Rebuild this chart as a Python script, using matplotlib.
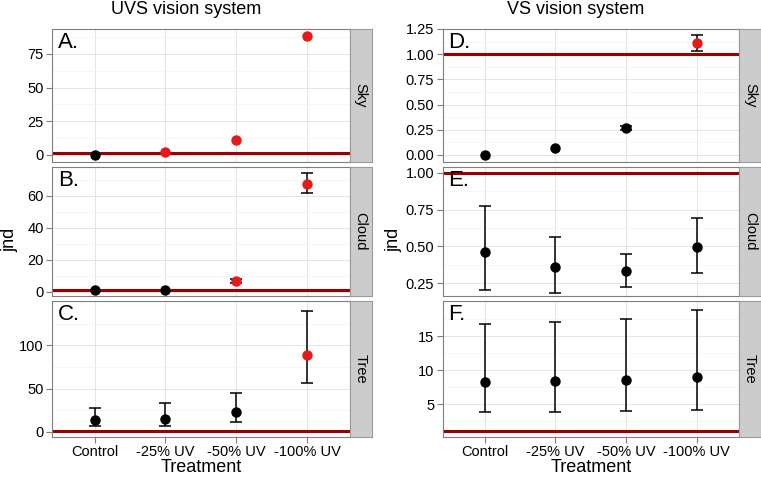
import matplotlib
matplotlib.use("Agg")
import matplotlib.pyplot as plt
from matplotlib.ticker import FixedLocator

plt.rcParams["font.family"] = ["Liberation Sans", "DejaVu Sans"]

# categories and data
treatments = ["Control", "-25% UV", "-50% UV", "-100% UV"]
backgrounds = ["Sky", "Cloud", "Tree"]

# UVS vision system (left column)
uvs_sky = [0.0, 2.0, 11.0, 88.0]
uvs_sky_lo = [0.0, 2.0, 11.0, 88.0]
uvs_sky_hi = [0.0, 2.0, 11.0, 88.0]
uvs_cloud = [1.0, 1.0, 6.7, 67.5]
uvs_cloud_lo = [1.0, 1.0, 5.5, 62.0]
uvs_cloud_hi = [1.0, 1.0, 7.9, 74.0]
uvs_tree = [13.5, 15.0, 23.0, 88.5]
uvs_tree_lo = [6.5, 7.0, 11.0, 56.0]
uvs_tree_hi = [27.0, 33.0, 45.0, 140.0]

# VS vision system (right column)
vs_sky = [0.0, 0.07, 0.265, 1.11]
vs_sky_lo = [0.0, 0.07, 0.245, 1.03]
vs_sky_hi = [0.0, 0.07, 0.285, 1.19]
vs_cloud = [0.46, 0.36, 0.33, 0.495]
vs_cloud_lo = [0.20, 0.185, 0.225, 0.32]
vs_cloud_hi = [0.775, 0.56, 0.445, 0.69]
vs_tree = [8.3, 8.4, 8.6, 9.0]
vs_tree_lo = [3.9, 3.9, 4.0, 4.1]
vs_tree_hi = [16.8, 17.1, 17.6, 18.9]

# which points are above threshold (drawn red)
uvs_sig = [[0, 1, 1, 1], [0, 0, 1, 1], [0, 0, 0, 1]]
vs_sig = [[0, 0, 0, 1], [0, 0, 0, 0], [0, 0, 0, 0]]

threshold = 1.0

W, H = 761, 478
fig = plt.figure(figsize=(W / 100, H / 100), dpi=100)

RED = "#E41A1C"
LINE = "#990000"

rows_px = [(29, 161.5), (167, 295.5), (300.5, 437)]
cols_px = [(52, 349.5), (442.5, 739)]
strip_w = 22

panels = [
    # column 0
    [(uvs_sky, uvs_sky_lo, uvs_sky_hi, (-5, 93.5), [0, 25, 50, 75], ["0", "25", "50", "75"], "A."),
     (uvs_cloud, uvs_cloud_lo, uvs_cloud_hi, (-2.5, 78), [0, 20, 40, 60], ["0", "20", "40", "60"], "B."),
     (uvs_tree, uvs_tree_lo, uvs_tree_hi, (-6, 152), [0, 50, 100], ["0", "50", "100"], "C.")],
    # column 1
    [(vs_sky, vs_sky_lo, vs_sky_hi, (-0.065, 1.25), [0, 0.25, 0.5, 0.75, 1.0, 1.25],
      ["0.00", "0.25", "0.50", "0.75", "1.00", "1.25"], "D."),
     (vs_cloud, vs_cloud_lo, vs_cloud_hi, (0.165, 1.04), [0.25, 0.5, 0.75, 1.0],
      ["0.25", "0.50", "0.75", "1.00"], "E."),
     (vs_tree, vs_tree_lo, vs_tree_hi, (0.15, 20.3), [5, 10, 15], ["5", "10", "15"], "F.")],
]
sigs = [uvs_sig, vs_sig]

x = list(range(1, len(treatments) + 1))

for c, (x0, x1) in enumerate(cols_px):
    for r, (y0, y1) in enumerate(rows_px):
        vals, lo, hi, ylim, yt, ytl, letter = panels[c][r]
        ax = fig.add_axes([x0 / W, 1 - y1 / H, (x1 - x0) / W, (y1 - y0) / H])
        ax.set_facecolor("white")
        ax.set_xlim(0.4, 4.6)
        ax.set_ylim(*ylim)
        # grid
        minor = [(yt[i] + yt[i + 1]) / 2 for i in range(len(yt) - 1)]
        step = yt[1] - yt[0]
        minor = [yt[0] - step / 2] + minor + [yt[-1] + step / 2]
        ax.yaxis.set_minor_locator(FixedLocator(minor))
        ax.set_yticks(yt)
        ax.set_yticklabels(ytl)
        ax.set_xticks(x)
        ax.grid(which="major", color="#E5E5E5", linewidth=0.7)
        ax.grid(which="minor", axis="y", color="#F5F5F5", linewidth=0.6)
        ax.set_axisbelow(True)
        ax.tick_params(which="minor", length=0)
        ax.tick_params(which="major", length=4, color="#7F7F7F", width=0.8,
                       labelsize=10.5, labelcolor="black", pad=2)
        for s in ax.spines.values():
            s.set_color("#7F7F7F")
            s.set_linewidth(0.8)

        ax.axhline(threshold, color=LINE, linewidth=2.2, zorder=2)

        cols = [RED if s else "black" for s in sigs[c][r]]
        for i in range(len(x)):
            if hi[i] - lo[i] > 0:
                ax.errorbar(x[i], vals[i], yerr=[[vals[i] - lo[i]], [hi[i] - vals[i]]],
                            fmt="none", ecolor="black", elinewidth=1.1, capsize=4.5,
                            capthick=1.1, zorder=3)
            ax.plot(x[i], vals[i], "o", color=cols[i], markersize=7.5,
                    markeredgewidth=0, zorder=4)

        ax.text(0.02, 0.975, letter, transform=ax.transAxes, fontsize=16,
                ha="left", va="top")

        if r == 2:
            ax.set_xticklabels(treatments, fontsize=10.5)
        else:
            ax.set_xticklabels([])
            ax.tick_params(axis="x", length=0)

        # strip
        sax = fig.add_axes([x1 / W, 1 - y1 / H, strip_w / W, (y1 - y0) / H])
        sax.set_facecolor("#CCCCCC")
        sax.set_xticks([])
        sax.set_yticks([])
        for s in sax.spines.values():
            s.set_color("#9A9A9A")
            s.set_linewidth(0.8)
        sax.text(0.5, 0.5, backgrounds[r], rotation=270, ha="center", va="center",
                 fontsize=10.5, transform=sax.transAxes)

fig.text(186 / W, 1 - 10 / H, "UVS vision system", ha="center", va="center", fontsize=13)
fig.text(576 / W, 1 - 10 / H, "VS vision system", ha="center", va="center", fontsize=13)
fig.text(201 / W, 1 - 468 / H, "Treatment", ha="center", va="center", fontsize=13)
fig.text(591 / W, 1 - 468 / H, "Treatment", ha="center", va="center", fontsize=13)
fig.text(10 / W, 1 - 240 / H, "jnd", ha="center", va="center", rotation=90, fontsize=13)
fig.text(394 / W, 1 - 240 / H, "jnd", ha="center", va="center", rotation=90, fontsize=13)

fig.savefig("out.png", dpi=100)
